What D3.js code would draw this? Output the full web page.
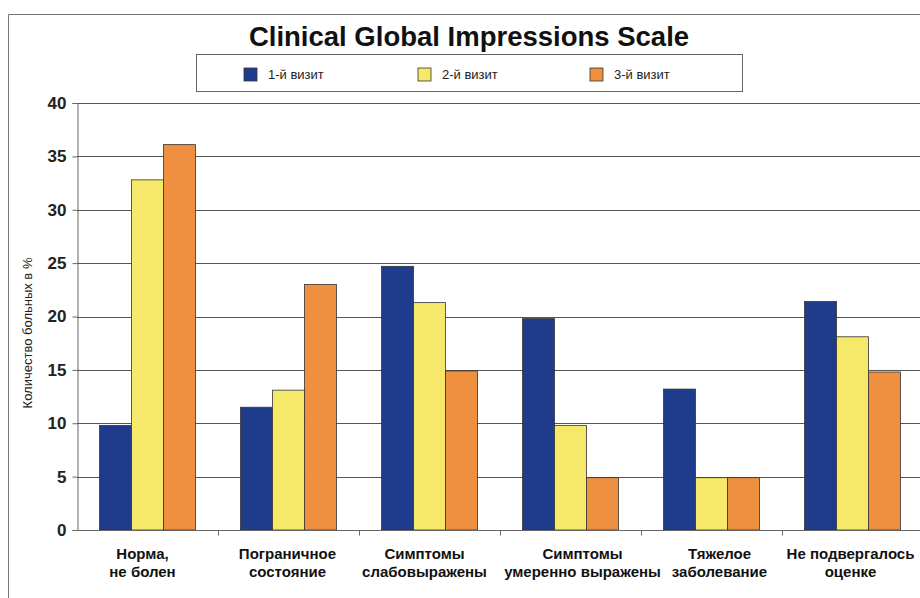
<!DOCTYPE html>
<html>
<head>
<meta charset="utf-8">
<script src="https://cdn.jsdelivr.net/npm/d3@7"></script>
<style>
  html, body { margin: 0; padding: 0; background: #fff; }
  svg { display: block; font-family: Arial, "Liberation Sans", sans-serif; }
</style>
</head>
<body>
<svg id="chart" width="920" height="598"></svg>
<script>
// Categories (two-line labels) and visit series, in percent of patients
const categories = [
  ["Норма,", "не болен"],
  ["Пограничное", "состояние"],
  ["Симптомы", "слабовыражены"],
  ["Симптомы", "умеренно выражены"],
  ["Тяжелое", "заболевание"],
  ["Не подвергалось", "оценке"]
];
const seriesNames = ["1-й визит", "2-й визит", "3-й визит"];
const visit1 = [9.8, 11.5, 24.7, 19.8, 13.2, 21.4];
const visit2 = [32.8, 13.1, 21.3, 9.8, 4.9, 18.1];
const visit3 = [36.1, 23.0, 14.9, 4.9, 4.9, 14.8];
const yTicks = [0, 5, 10, 15, 20, 25, 30, 35, 40];

const colors = ["#1f3b8c", "#f6e86a", "#ee9040"];
const seriesValues = [visit1, visit2, visit3];
// horizontal nudges so neighbouring long labels do not collide
const labelNudge = [-5, -1, -5, 12, 8, -2];

const svg = d3.select("#chart");

// outer chart frame
svg.append("path")
  .attr("d", "M8.5,598 L8.5,14.5 L920,14.5")
  .attr("fill", "none").attr("stroke", "#777").attr("stroke-width", 1);

const plot = { left: 77, right: 923, top: 103, bottom: 530 };

const x0 = d3.scaleBand()
  .domain(d3.range(categories.length))
  .range([plot.left, plot.right])
  .paddingInner(0.32).paddingOuter(0.16);

const x1 = d3.scaleBand()
  .domain(d3.range(seriesNames.length))
  .range([0, x0.bandwidth()]);

const y = d3.scaleLinear().domain([0, 40]).range([plot.bottom, plot.top]);

// horizontal gridlines
svg.append("g")
  .selectAll("line")
  .data(yTicks.filter(t => t > 0))
  .join("line")
  .attr("x1", plot.left).attr("x2", 920)
  .attr("y1", d => Math.round(y(d)) + 0.5).attr("y2", d => Math.round(y(d)) + 0.5)
  .attr("stroke", "#555").attr("stroke-width", 1);

// bars
const groups = svg.append("g")
  .selectAll("g")
  .data(categories.map((c, i) => i))
  .join("g")
  .attr("transform", i => `translate(${x0(i)},0)`);

groups.selectAll("rect")
  .data(i => seriesValues.map((vals, s) => ({ s, v: vals[i] })))
  .join("rect")
  .attr("x", d => x1(d.s))
  .attr("width", x1.bandwidth())
  .attr("y", d => y(d.v))
  .attr("height", d => y(0) - y(d.v))
  .attr("fill", d => colors[d.s])
  .attr("stroke", "#333")
  .attr("stroke-width", 0.8);

// y axis
const yAxis = d3.axisLeft(y).tickValues(yTicks).tickSize(5).tickPadding(6);
const gy = svg.append("g")
  .attr("transform", `translate(${plot.left + 0.5},0)`)
  .call(yAxis);
gy.select(".domain").attr("stroke", "#666");
gy.selectAll(".tick line").attr("stroke", "#666");
gy.selectAll(".tick text")
  .attr("font-size", 17).attr("font-weight", "bold")
  .attr("fill", "#222").attr("font-family", "Arial, 'Liberation Sans', sans-serif");

// x axis baseline with ticks between categories
const step = x0.step();
const catStart = i => x0(i) - x0.paddingOuter() * step;
const gx = svg.append("g").attr("transform", `translate(0,${plot.bottom + 0.5})`);
gx.append("line")
  .attr("x1", plot.left).attr("x2", 920)
  .attr("stroke", "#666");
gx.selectAll("line.tk")
  .data(d3.range(1, categories.length + 1))
  .join("line").attr("class", "tk")
  .attr("x1", i => Math.round(catStart(i - 1) + step) + 0.5)
  .attr("x2", i => Math.round(catStart(i - 1) + step) + 0.5)
  .attr("y1", 0).attr("y2", 5)
  .attr("stroke", "#666");

// category labels
const labels = svg.append("g")
  .selectAll("text")
  .data(categories)
  .join("text")
  .attr("x", (d, i) => x0(i) + x0.bandwidth() / 2 + labelNudge[i])
  .attr("y", 559)
  .attr("text-anchor", "middle")
  .attr("font-size", 15).attr("font-weight", "bold").attr("fill", "#111");
labels.selectAll("tspan")
  .data(d => d)
  .join("tspan")
  .attr("x", function () { return d3.select(this.parentNode).attr("x"); })
  .attr("dy", (d, j) => j === 0 ? 0 : 18)
  .text(d => d);

// y axis title
svg.append("text")
  .attr("transform", `translate(32,${333}) rotate(-90)`)
  .attr("text-anchor", "middle")
  .attr("font-size", 13).attr("fill", "#222")
  .text("Количество больных в %");

// chart title
svg.append("text")
  .attr("x", 469).attr("y", 46)
  .attr("text-anchor", "middle")
  .attr("font-size", 27.5).attr("font-weight", "bold").attr("fill", "#111")
  .text("Clinical Global Impressions Scale");

// legend
const legend = svg.append("g");
legend.append("rect")
  .attr("x", 196.5).attr("y", 54.5).attr("width", 546).attr("height", 37)
  .attr("fill", "#fff").attr("stroke", "#666").attr("stroke-width", 1);
const legendX = [244, 418, 590];
const li = legend.selectAll("g.item")
  .data(seriesNames)
  .join("g").attr("class", "item")
  .attr("transform", (d, i) => `translate(${legendX[i]},68)`);
li.append("rect")
  .attr("width", 13).attr("height", 13)
  .attr("fill", (d, i) => colors[i]).attr("stroke", "#333").attr("stroke-width", 0.8);
li.append("text")
  .attr("x", 24).attr("y", 11)
  .attr("font-size", 13).attr("fill", "#222")
  .text(d => d);
</script>
</body>
</html>
